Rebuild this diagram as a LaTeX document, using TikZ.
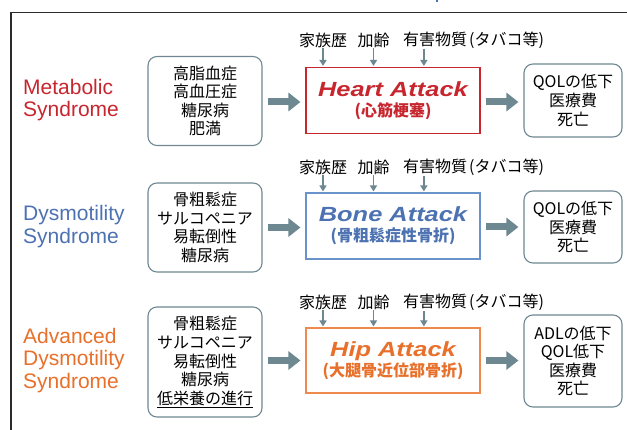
\documentclass[tikz,border=0pt]{standalone}
\usepackage{fontspec}
\usepackage{graphicx}
\setmainfont{Liberation Sans}
\newfontfamily\jp{Noto Sans CJK JP}
\usetikzlibrary{arrows.meta}
\definecolor{hred}{HTML}{C8262E}
\definecolor{bblue}{HTML}{4D72B2}
\definecolor{bborder}{HTML}{6A93CB}
\definecolor{horange}{HTML}{E8702A}
\definecolor{hborder}{HTML}{EE8A4E}
\definecolor{agray}{HTML}{6E8892}
\definecolor{bgray}{HTML}{6F8893}
\definecolor{frame}{HTML}{2B2B2B}
\newcommand{\attackfont}{\fontsize{20.5}{20}\selectfont\bfseries\itshape}
\newcommand{\subfont}{\jp\bfseries\fontsize{16}{20}\selectfont}
\newcommand{\riskthree}{有害物質\kern2pt(タバコ等)}
\tikzset{
  lbox/.style={draw=bgray, line width=1.1pt, rounded corners=9pt, minimum width=114pt,
    align=center, inner sep=0pt, font=\jp\fontsize{16}{18.6}\selectfont},
  rbox/.style={lbox, minimum width=98pt},
  abox/.style={line width=1.1pt, fill=white, minimum width=174pt, align=center,
    inner sep=0pt, font=\fontsize{16}{20}\selectfont},
  bigarr/.style={line width=7pt, draw=agray, -{Triangle[length=12pt,width=18pt]},
    shorten <=5pt, shorten >=5pt},
  smallarr/.style={line width=1.5pt, draw=agray, -{Triangle[length=6pt,width=7pt]},
    shorten >=1pt},
  toplbl/.style={inner sep=0pt, font=\jp\fontsize{16}{18}\selectfont},
  synd/.style={anchor=west, align=left, inner sep=0pt, font=\fontsize{21}{22.5}\selectfont},
}
\begin{document}
\begin{tikzpicture}[x=1pt,y=-1pt]
\useasboundingbox (0,0) rectangle (627,430);
\fill[white] (0,0) rectangle (627,430);
% frame
\draw[frame, line width=1.5pt] (11,431) -- (11,12.5) -- (628,12.5);
\draw[bblue, line width=1.2pt] (437,0) -- (437,2.5);

% ---------------- Row 1 ----------------
\node[synd, text=hred] (s1) at (23,100) {Metabolic\\Syndrome};
\node[lbox, minimum height=89pt] (l1) at (205,101) {高脂血症\\高血圧症\\糖尿病\\肥満};
\node[abox, draw=hred, minimum height=66pt] (a1) at (393,100.5)
  {{\attackfont\color{hred}\scalebox{1.24}[1]{Heart Attack}}\\{\subfont\color{hred}(心筋梗塞)}};
\node[rbox, minimum height=73pt] (r1) at (573,100.5) {QOLの低下\\医療費\\死亡};
\node[toplbl] (t11) at (323,40) {家族歴};
\node[toplbl] (t12) at (373.5,40) {加齢};
\node[toplbl] (t13) at (473.5,40) {\riskthree};
\draw[smallarr] (t11.south) -- (t11.south |- a1.north);
\draw[smallarr] (t12.south) -- (t12.south |- a1.north);
\draw[smallarr] ([xshift=21pt]t13.south west) -- ([xshift=21pt]t13.south west |- a1.north);
\draw[bigarr] ([yshift=-1pt]l1.east) -- ([yshift=-1pt]l1.east -| a1.west);
\draw[bigarr] ([yshift=-1.5pt]a1.east) -- ([yshift=-1.5pt]a1.east -| r1.west);

% ---------------- Row 2 ----------------
\node[synd, text=bblue] (s2) at (23,226.5) {Dysmotility\\Syndrome};
\node[lbox, minimum height=89pt] (l2) at (205,227.5) {骨粗鬆症\\サルコペニア\\易転倒性\\糖尿病};
\node[abox, draw=bborder, minimum height=66pt] (a2) at (393,226)
  {{\attackfont\color{bblue}\scalebox{1.24}[1]{Bone Attack}}\\{\subfont\color{bblue}(骨粗鬆症性骨折)}};
\node[rbox, minimum height=72pt] (r2) at (573,227) {QOLの低下\\医療費\\死亡};
\node[toplbl] (t21) at (323,167) {家族歴};
\node[toplbl] (t22) at (373.5,167) {加齢};
\node[toplbl] (t23) at (473.5,167) {\riskthree};
\draw[smallarr] (t21.south) -- (t21.south |- a2.north);
\draw[smallarr] (t22.south) -- (t22.south |- a2.north);
\draw[smallarr] ([xshift=21pt]t23.south west) -- ([xshift=21pt]t23.south west |- a2.north);
\draw[bigarr] (l2.east) -- (l2.east -| a2.west);
\draw[bigarr] ([yshift=-1pt]a2.east) -- ([yshift=-1pt]a2.east -| r2.west);

% ---------------- Row 3 ----------------
\node[synd, text=horange] (s3) at (23,360.5) {Advanced\\Dysmotility\\Syndrome};
\node[lbox, minimum height=110pt] (l3) at (205,362) {骨粗鬆症\\サルコペニア\\易転倒性\\糖尿病\\\underline{低栄養の進行}};
\node[abox, draw=hborder, minimum height=65pt] (a3) at (393,360.5)
  {{\attackfont\color{horange}\scalebox{1.24}[1]{Hip Attack}}\\{\subfont\color{horange}(大腿骨近位部骨折)}};
\node[rbox, minimum height=92pt] (r3) at (573,361) {ADLの低下\\QOL低下\\医療費\\死亡};
\node[toplbl] (t31) at (323,302) {家族歴};
\node[toplbl] (t32) at (373.5,302) {加齢};
\node[toplbl] (t33) at (473.5,302) {\riskthree};
\draw[smallarr] (t31.south) -- (t31.south |- a3.north);
\draw[smallarr] (t32.south) -- (t32.south |- a3.north);
\draw[smallarr] ([xshift=21pt]t33.south west) -- ([xshift=21pt]t33.south west |- a3.north);
\draw[bigarr] (a3.west -| l3.east) -- (a3.west);
\draw[bigarr] (a3.east) -- (a3.east -| r3.west);
\end{tikzpicture}
\end{document}
